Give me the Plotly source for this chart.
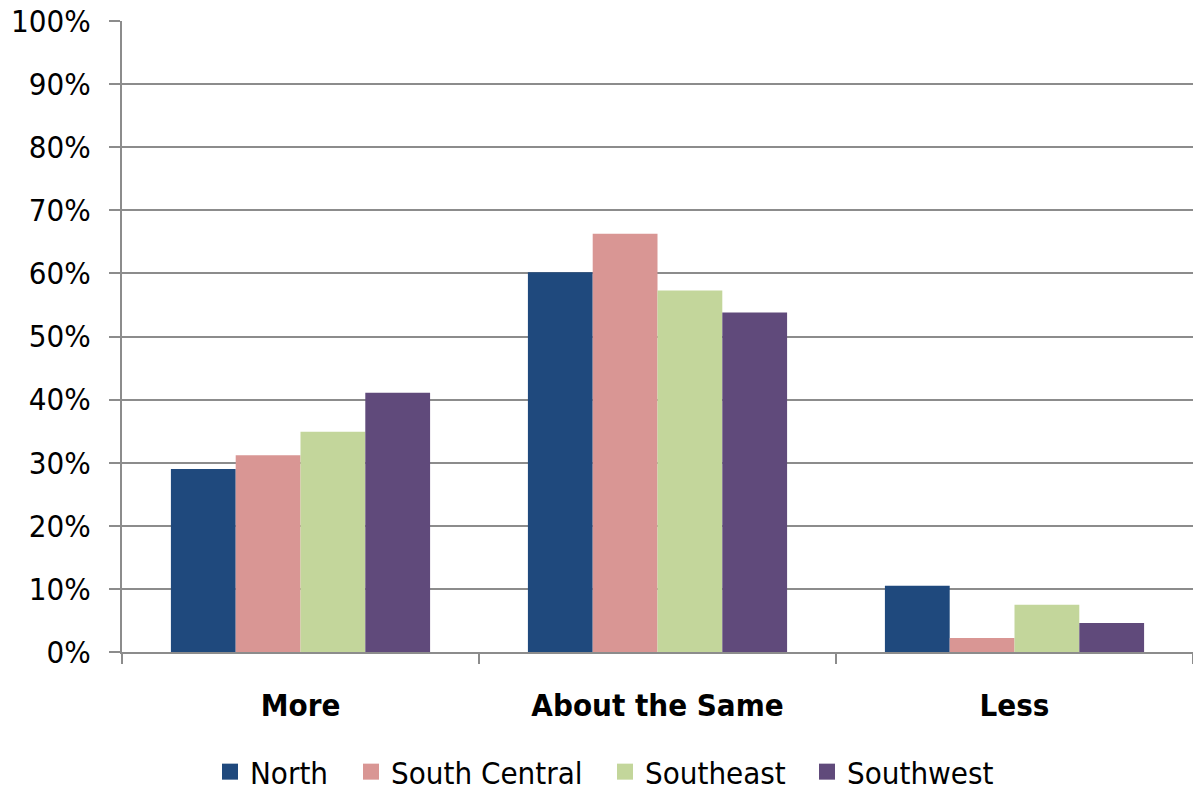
import plotly.graph_objects as go

categories = ["More", "About the Same", "Less"]
regions = ["North", "South Central", "Southeast", "Southwest"]
north = [0.290, 0.602, 0.105]
south_central = [0.312, 0.663, 0.022]
southeast = [0.349, 0.573, 0.075]
southwest = [0.411, 0.538, 0.046]
colors = ["#1F497D", "#D99694", "#C3D69B", "#604A7B"]

# left edge (px) and text-area width (px) of each legend entry on the bottom row
legend_left_px = [210, 351, 605, 807]
legend_entry_px = [90, 200, 150, 160]
legend_center_y_px = 772

series = [north, south_central, southeast, southwest]
font_family = "DejaVu Sans Condensed, DejaVu Sans, sans-serif"
grid_color = "#8C8C8C"
W, H = 1193, 793

fig = go.Figure()
legend_ids = ["legend", "legend2", "legend3", "legend4"]
for name, vals, col, lid in zip(regions, series, colors, legend_ids):
    fig.add_trace(go.Bar(
        x=categories, y=vals, name=name, legendgroup=name,
        marker=dict(color=col, line=dict(width=0)),
        showlegend=False,
    ))
    # square swatch for the legend entry
    fig.add_trace(go.Scatter(
        x=[None], y=[None], mode="markers", name=name, legendgroup=name,
        marker=dict(symbol="square", size=18, color=col),
        legend=lid, showlegend=True,
    ))

legend_layout = {}
for lid, px, ew in zip(legend_ids, legend_left_px, legend_entry_px):
    legend_layout[lid] = dict(
        orientation="h", xref="container", yref="container",
        x=px / W, xanchor="left", y=1 - legend_center_y_px / H, yanchor="middle",
        entrywidth=ew, entrywidthmode="pixels",
        font=dict(size=31, family=font_family, color="black"),
        bgcolor="rgba(0,0,0,0)", borderwidth=0,
    )

fig.update_layout(
    width=W, height=H,
    margin=dict(l=122, r=0, t=21, b=141),
    paper_bgcolor="white", plot_bgcolor="white",
    barmode="group", bargap=0.274, bargroupgap=0,
    font=dict(family=font_family, color="black", size=28),
    **legend_layout,
)

fig.update_yaxes(
    range=[0, 1], dtick=0.1, tickformat=".0%",
    showgrid=True, gridcolor=grid_color, gridwidth=2,
    showline=True, linecolor=grid_color, linewidth=2,
    ticks="outside", ticklen=11, tickwidth=2, tickcolor=grid_color,
    ticklabelstandoff=12, automargin=False,
    tickfont=dict(size=31, family=font_family, color="black"),
    zeroline=False,
)
fig.update_xaxes(
    showline=True, linecolor=grid_color, linewidth=2,
    ticks="outside", ticklen=10, tickwidth=2, tickcolor=grid_color,
    tickson="boundaries", automargin=False,
    ticklabelstandoff=25,
    tickfont=dict(size=31, family=font_family, color="black", weight="bold"),
)

fig.write_html("out.html")
